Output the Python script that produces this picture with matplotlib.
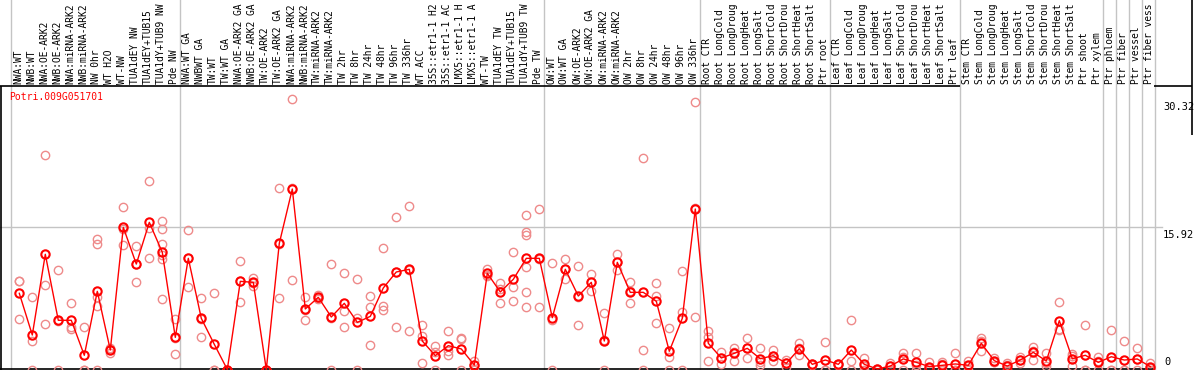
import matplotlib
matplotlib.use('Agg')
import matplotlib.pyplot as plt

gene = 'Potri.009G051701'

# sample names as far as they show in the header strip (14 characters)
labels = [
    'NWA:WT', 'NWB:WT', 'NWA:OE-ARK2', 'NWB:OE-ARK2', 'NWA:miRNA-ARK2',
    'NWB:miRNA-ARK2', 'NW 0hr', 'WT H2O', 'WT-NW', 'TUA1dEY NW',
    'TUA1dEY+TUB15', 'TUA1dY+TUB9 NW', 'Pde NW', 'NWA:WT GA', 'NWBWT GA',
    'TW:WT', 'TW:WT GA', 'NWA:OE-ARK2 GA', 'NWB:OE-ARK2 GA', 'TW:OE-ARK2',
    'TW:OE-ARK2 GA', 'NWA:miRNA-ARK2', 'NWB:miRNA-ARK2', 'TW:miRNA-ARK2',
    'TW:miRNA-ARK2', 'TW 2hr', 'TW 8hr', 'TW 24hr', 'TW 48hr', 'TW 96hr',
    'TW 336hr', 'WT ACC', '35S::etr1-1 H2', '35S::etr1-1 AC',
    'LMX5::etr1-1 H', 'LMX5::etr1-1 A', 'WT-TW', 'TUA1dEY TW',
    'TUA1dEY+TUB15', 'TUA1dY+TUB9 TW', 'Pde TW', 'OW:WT', 'OW:WT GA',
    'OW:OE-ARK2', 'OW:OE-ARK2 GA', 'OW:miRNA-ARK2', 'OW:miRNA-ARK2',
    'OW 2hr', 'OW 8hr', 'OW 24hr', 'OW 48hr', 'OW 96hr', 'OW 336hr',
    'Root CTR', 'Root LongCold', 'Root LongDroug', 'Root LongHeat',
    'Root LongSalt', 'Root ShortCold', 'Root ShortDrou', 'Root ShortHeat',
    'Root ShortSalt', 'Ptr root', 'Leaf CTR', 'Leaf LongCold',
    'Leaf LongDroug', 'Leaf LongHeat', 'Leaf LongSalt', 'Leaf ShortCold',
    'Leaf ShortDrou', 'Leaf ShortHeat', 'Leaf ShortSalt', 'Ptr leaf',
    'Stem CTR', 'Stem LongCold', 'Stem LongDroug', 'Stem LongHeat',
    'Stem LongSalt', 'Stem ShortCold', 'Stem ShortDrou', 'Stem ShortHeat',
    'Stem ShortSalt', 'Ptr shoot', 'Ptr xylem', 'Ptr phloem', 'Ptr fiber',
    'Ptr vessel', 'Ptr fiber vess',
]

means = [
    8.53, 3.86, 12.9, 5.51, 5.51, 1.59, 8.75, 2.18, 15.92, 11.81,
    16.48, 13.12, 3.6, 12.45, 5.73, 2.82, 0, 9.87, 9.76, 0,
    14.13, 20.21, 6.78, 8.08, 5.88, 7.41, 5.28, 5.95, 9.13, 10.92,
    11.22, 3.19, 1.55, 2.67, 2.3, 0.5, 10.77, 8.68, 10.1, 12.45,
    12.45, 5.8, 11.22, 8.23, 9.76, 3.19, 12.0, 8.64, 8.64, 7.64,
    2.04, 5.73, 17.97, 2.93, 1.29, 1.81, 2.37, 1.21, 1.55, 0.69,
    2.33, 0.58, 1.06, 0.58, 2.18, 0.58, 0.05, 0.39, 1.18, 0.8,
    0.32, 0.47, 0.62, 0.47, 2.93, 0.99, 0.39, 1.06, 1.92, 0.95,
    5.47, 1.21, 1.59, 0.8, 1.43, 1.06, 1.18, 0.32,
]

reps = [
    [9.95, 9.9, 5.62], [8.15, 3.23, 0], [23.98, 9.46, 5.06], [11.11, 5.4, 0],
    [7.41, 4.79, 4.5], [4.79, 0, 0], [14.6, 14.1, 8.15, 7.1, 0], [2.4, 1.8, 2.3],
    [18.16, 13.9, 15.7], [13.8, 9.76, 11.87], [21.07, 12.45, 15.9],
    [16.63, 15.7, 14.05, 12.8, 12.4, 7.86], [5.62, 1.7, 3.5], [15.6, 9.2, 12.5],
    [7.97, 3.6, 5.6], [8.53, 0, 0], [0, 0, 0], [12.18, 7.52, 9.9],
    [10.3, 9.3, 9.7], [0, 0, 0], [20.3, 7.97, 14.1], [30.32, 10.0, 20.3],
    [8.08, 5.54, 6.7], [8.3, 7.9, 8.0], [11.81, 0, 5.8], [10.77, 6.59, 4.73],
    [10.1, 5.73, 0], [8.23, 6.96, 2.71], [13.6, 7.1, 6.7], [17.08, 4.73, 10.9],
    [18.27, 4.31, 11.1], [4.98, 3.75, 0.69], [2.63, 2.0, 0], [4.31, 1.62, 2.1],
    [3.42, 0, 3.5], [0.99, 0, 0.5], [11.25, 10.6, 10.45], [9.65, 7.41, 9.0],
    [13.12, 9.27, 7.71], [17.27, 15.43, 15.06, 11.51, 8.64, 7.03],
    [17.97, 6.96, 12.4], [11.89, 5.54, 0], [12.37, 10.1, 11.2],
    [11.59, 4.98, 8.1], [10.66, 8.83, 9.8], [6.29, 0, 3.3], [12.9, 11.14, 12.0],
    [9.76, 7.41, 8.8], [23.65, 2.18, 0], [9.65, 8.23, 5.17], [4.61, 1.43, 0],
    [11.0, 6.48, 0], [29.92, 5.92, 18.1], [4.31, 3.6, 0.95], [1.99, 0.58, 1.3],
    [2.45, 0.95, 2.0], [3.49, 1.25, 2.4], [2.37, 0.47, 0.8], [2.18, 0.95, 1.5],
    [1.07, 0.31, 0.7], [2.93, 1.62, 2.4], [0.6, 0.5, 0.65], [3.05, 0, 0],
    [0.6, 0.5, 0.65], [5.54, 0.95, 0], [1.3, 0.4, 0], [0.1, 0, 0.05],
    [0.77, 0, 0.4], [1.88, 1.4, 0], [1.9, 0, 0.5], [0.8, 0, 0.2], [0.8, 0.6, 0],
    [1.9, 0, 0], [1.0, 0, 0.4], [3.56, 2.07, 3.2], [1.25, 0.87, 0.85],
    [0.69, 0, 0.5], [1.36, 0.69, 1.1], [2.56, 1.07, 2.1], [1.8, 0.39, 0.7],
    [7.52, 4.42, 4.5], [1.5, 0.39, 1.7], [4.95, 0, 0], [1.4, 0, 1.0],
    [4.42, 0, 0], [3.19, 0, 0], [2.37, 0, 1.2], [0.77, 0, 0.2],
]

# last sample index of each group (a grey separator follows it)
group_ends = [-1, 12, 40, 52, 62, 72, 83, 84, 85, 86, 87]
ytick_vals = [0, 15.92, 30.32]

RED = '#ff0000'
PINK = '#ee8a8a'
GRID = '#c4c4c4'
MONO = 'DejaVu Sans Mono'

W, H = 1194, 370
x0, dx = 19.3, 13.0     # pixel of first sample, pixels per sample
y0, dy = 369.5, 8.93    # pixel row of value 0, pixels per unit


def px2x(p):
    return (p - x0) / dx


def px2y(p):
    return (y0 - p) / dy


fig = plt.figure(figsize=(W / 100, H / 100), dpi=100)
ax = fig.add_axes([0, 0, 1, 1])
ax.set_axis_off()
ax.set_xlim(px2x(0), px2x(W))
ax.set_ylim(px2y(H), px2y(0))

ytop = px2y(86)

# separators and grid
for g in group_ends:
    ax.axvline(g + 0.36, color=GRID, lw=1, zorder=1)
ax.plot([px2x(0), px2x(1162)], [15.92, 15.92], color=GRID, lw=1, zorder=1)

# frame
k = dict(color='black', lw=1.2, zorder=2, solid_capstyle='butt')
ax.plot([px2x(0), px2x(960)], [ytop, ytop], **k)
ax.plot([px2x(1154), px2x(1192)], [ytop, ytop], **k)
ax.plot([px2x(1), px2x(1)], [ytop, px2y(370)], **k)
ax.plot([px2x(0), px2x(1155)], [px2y(369), px2y(369)], **k)
ax.plot([px2x(1192), px2x(1192)], [px2y(0), px2y(135)], **k)

# replicates
for i, r in enumerate(reps):
    ax.plot([i] * len(r), r, 'o', mfc='none', mec=PINK, ms=6, mew=1.0, zorder=3)

# means
ax.plot(range(len(means)), means, '-o', color=RED, lw=1, mfc='none',
        mec=RED, ms=6, mew=1.5, zorder=4)

# sample labels
for i, lab in enumerate(labels):
    ax.text(i - 0.08, px2y(84), lab, rotation=90, ha='center', va='bottom',
            fontsize=6.9, family=MONO, clip_on=False)

ax.text(px2x(9), px2y(97), gene, color=RED, fontsize=7, family=MONO,
        ha='left', va='center')

for v in ytick_vals:
    if v == 0:
        ax.annotate('0', xy=(px2x(1164), v), xytext=(0, 2),
                    textcoords='offset points', ha='left', va='bottom',
                    fontsize=7.5, family=MONO)
    else:
        ax.annotate(f'{v:.2f}', xy=(px2x(1163), v), xytext=(0, -2),
                    textcoords='offset points', ha='left', va='top',
                    fontsize=7.5, family=MONO)

fig.savefig('out.png', dpi=100)
plt.close(fig)
